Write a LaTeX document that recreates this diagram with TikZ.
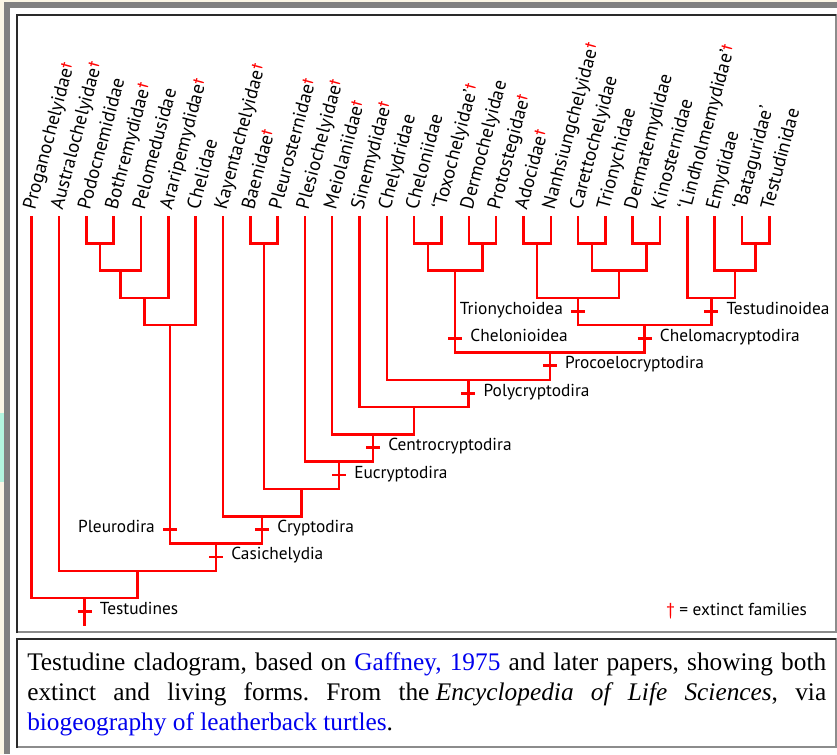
\documentclass[tikz,border=0pt]{standalone}
\usepackage{fontspec}
\setmainfont{Liberation Serif}
\newfontfamily\cladefont{PT Sans}
\usetikzlibrary{calc}
\frenchspacing

\definecolor{pagecream}{HTML}{FCF7E6}
\definecolor{framegray}{HTML}{818181}
\definecolor{edgedark}{HTML}{2A2A2A}
\definecolor{edgelight}{HTML}{8C8C8C}
\definecolor{mintstrip}{HTML}{B3F5DF}
\definecolor{linkblue}{HTML}{0000EE}

% red dagger for extinct families
\newcommand\extinct{\textcolor{red}{\raisebox{.45ex}{\fontsize{9}{9}\selectfont\bfseries †}}}

% join two children #2 and #3 with a bar at the height of level #4; the new node is #1
\newcommand\cladejoin[4]{%
  \coordinate (#1mid) at ($(#2)!.5!(#3)$);
  \coordinate (#1) at (#1mid |- #4);
  \draw[branch] (#2) |- (#1) -| (#3);
}

\begin{document}
\begin{tikzpicture}[x=0.75pt,y=-0.75pt,
  branch/.style={red, line width=1.9pt, line join=miter},
  tick/.style={red, line width=2.1pt},
  taxon/.style={font=\cladefont\fontsize{14.3}{15}\selectfont, rotate=75, anchor=mid west, inner sep=0pt},
  clade/.style={font=\cladefont\fontsize{13}{14}\selectfont, inner sep=0pt},
  captionline/.style={font=\fontsize{19}{22}\selectfont, anchor=base west, inner sep=0pt}]

% page, frame and the two boxes
\useasboundingbox (0,0) rectangle (837,754);
\fill[pagecream] (0,0) rectangle (837,754);
\fill[mintstrip] (0,413) rectangle (4,482);
\fill[framegray] (4,2) rectangle (837,754);
\fill[white] (10,8) rectangle (837,754);

\fill[white] (16,14) rectangle (836,633);
\draw[edgelight, line width=1.5pt] (16,632) -- (835.5,632) -- (835.5,14);
\draw[edgedark, line width=1.5pt] (16.5,633) -- (16.5,15) -- (835.5,15);

\fill[white] (16,638) rectangle (836,748);
\draw[edgelight, line width=1.5pt] (16,747) -- (835.5,747) -- (835.5,638);
\draw[edgedark, line width=1.5pt] (16.5,748) -- (16.5,639) -- (835.5,639);

% levels of the cladogram
\foreach \k in {1,...,15} \coordinate (L\k) at (0,{216+27.3*\k});

% terminal taxa
\foreach \i/\txt in {
  1/Proganochelyidae\extinct,
  2/Australochelyidae\extinct,
  3/Podocnemididae,
  4/Bothremydidae\extinct,
  5/Pelomedusidae,
  6/Araripemydidae\extinct,
  7/Chelidae,
  8/Kayentachelyidae\extinct,
  9/Baenidae\extinct,
  10/Pleurosternidae\extinct,
  11/Plesiochelyidae\extinct,
  12/Meiolaniidae\extinct,
  13/Sinemydidae\extinct,
  14/Chelydridae,
  15/Cheloniidae,
  16/‘Toxochelyidae’\extinct,
  17/Dermochelyidae,
  18/Protostegidae\extinct,
  19/Adocidae\extinct,
  20/Nanhsiungchelyidae\extinct,
  21/Carettochelyidae,
  22/Trionychidae,
  23/Dermatemydidae,
  24/Kinosternidae,
  25/‘Lindholmemydidae’\extinct,
  26/Emydidae,
  27/‘Bataguridae’,
  28/Testudinidae}
{
  \coordinate (t\i) at ({31.7+27.32*(\i-1)},216);
  \node[taxon] (name\i) at ({32.2+27.32*(\i-1)},209.5) {\txt};
}

% Pleurodira
\cladejoin{A1}{t3}{t4}{L1}
\cladejoin{A2}{A1}{t5}{L2}
\cladejoin{A3}{A2}{t6}{L3}
\cladejoin{PLE}{A3}{t7}{L4}
% Baenidae + Pleurosternidae
\cladejoin{B1}{t9}{t10}{L1}
% Chelonioidea
\cladejoin{C1}{t15}{t16}{L1}
\cladejoin{C2}{t17}{t18}{L1}
\cladejoin{CHE}{C1}{C2}{L2}
% Trionychoidea
\cladejoin{T1}{t19}{t20}{L1}
\cladejoin{T2}{t21}{t22}{L1}
\cladejoin{T3}{t23}{t24}{L1}
\cladejoin{T4}{T2}{T3}{L2}
\cladejoin{TRI}{T1}{T4}{L3}
% Testudinoidea
\cladejoin{E1}{t27}{t28}{L1}
\cladejoin{E2}{t26}{E1}{L2}
\cladejoin{TSD}{t25}{E2}{L3}
% backbone
\cladejoin{CHM}{TRI}{TSD}{L4}
\cladejoin{PRO}{CHE}{CHM}{L5}
\cladejoin{POL}{t14}{PRO}{L6}
\cladejoin{N7}{t13}{POL}{L7}
\cladejoin{CEN}{t12}{N7}{L8}
\cladejoin{EUC}{t11}{CEN}{L9}
\cladejoin{N10}{B1}{EUC}{L10}
\cladejoin{CRY}{t8}{N10}{L11}
\cladejoin{CAS}{PLE}{CRY}{L12}
\cladejoin{N13}{t2}{CAS}{L13}
\cladejoin{TES}{t1}{N13}{L14}
\coordinate (root) at (TES |- L15);
\draw[branch] (TES) -- (root);

% named clades: tick on the stem and its label
\foreach \n/\p/\side/\dx/\txt in {
  PLE/L12/east/-15/Pleurodira,
  CRY/L12/west/15/Cryptodira,
  CAS/L13/west/15/Casichelydia,
  TES/L15/west/15/Testudines,
  EUC/L10/west/15/Eucryptodira,
  CEN/L9/west/15/Centrocryptodira,
  POL/L7/west/15/Polycryptodira,
  PRO/L6/west/15/Procoelocryptodira,
  CHE/L5/west/15/Chelonioidea,
  CHM/L5/west/15/Chelomacryptodira,
  TRI/L4/east/-15/Trionychoidea,
  TSD/L4/west/15/Testudinoidea}
{
  \coordinate (k\n) at ($(\n |- \p)+(0,-14)$);
  \draw[tick] ($(k\n)+(-7,0)$) -- ($(k\n)+(7,0)$);
  \node[clade, anchor=mid \side] (lab\n) at ($(k\n)+(\dx,0)$) {\txt};
}

% key
\node[clade, anchor=mid west] (key) at (666,612) {\textcolor{red}{†} = extinct families};

% caption
\node[captionline] (cap1) at (27,670) {\makebox[599.25pt][s]{Testudine cladogram, based on \textcolor{linkblue}{Gaffney, 1975} and later papers, showing both}};
\node[captionline] (cap2) at (27,700) {\makebox[599.25pt][s]{extinct and living forms. From the\hspace{0.25em}\textit{Encyclopedia of Life Sciences}, via}};
\node[captionline] (cap3) at (27,730) {\textcolor{linkblue}{biogeography of leatherback turtles}.};

\end{tikzpicture}
\end{document}
